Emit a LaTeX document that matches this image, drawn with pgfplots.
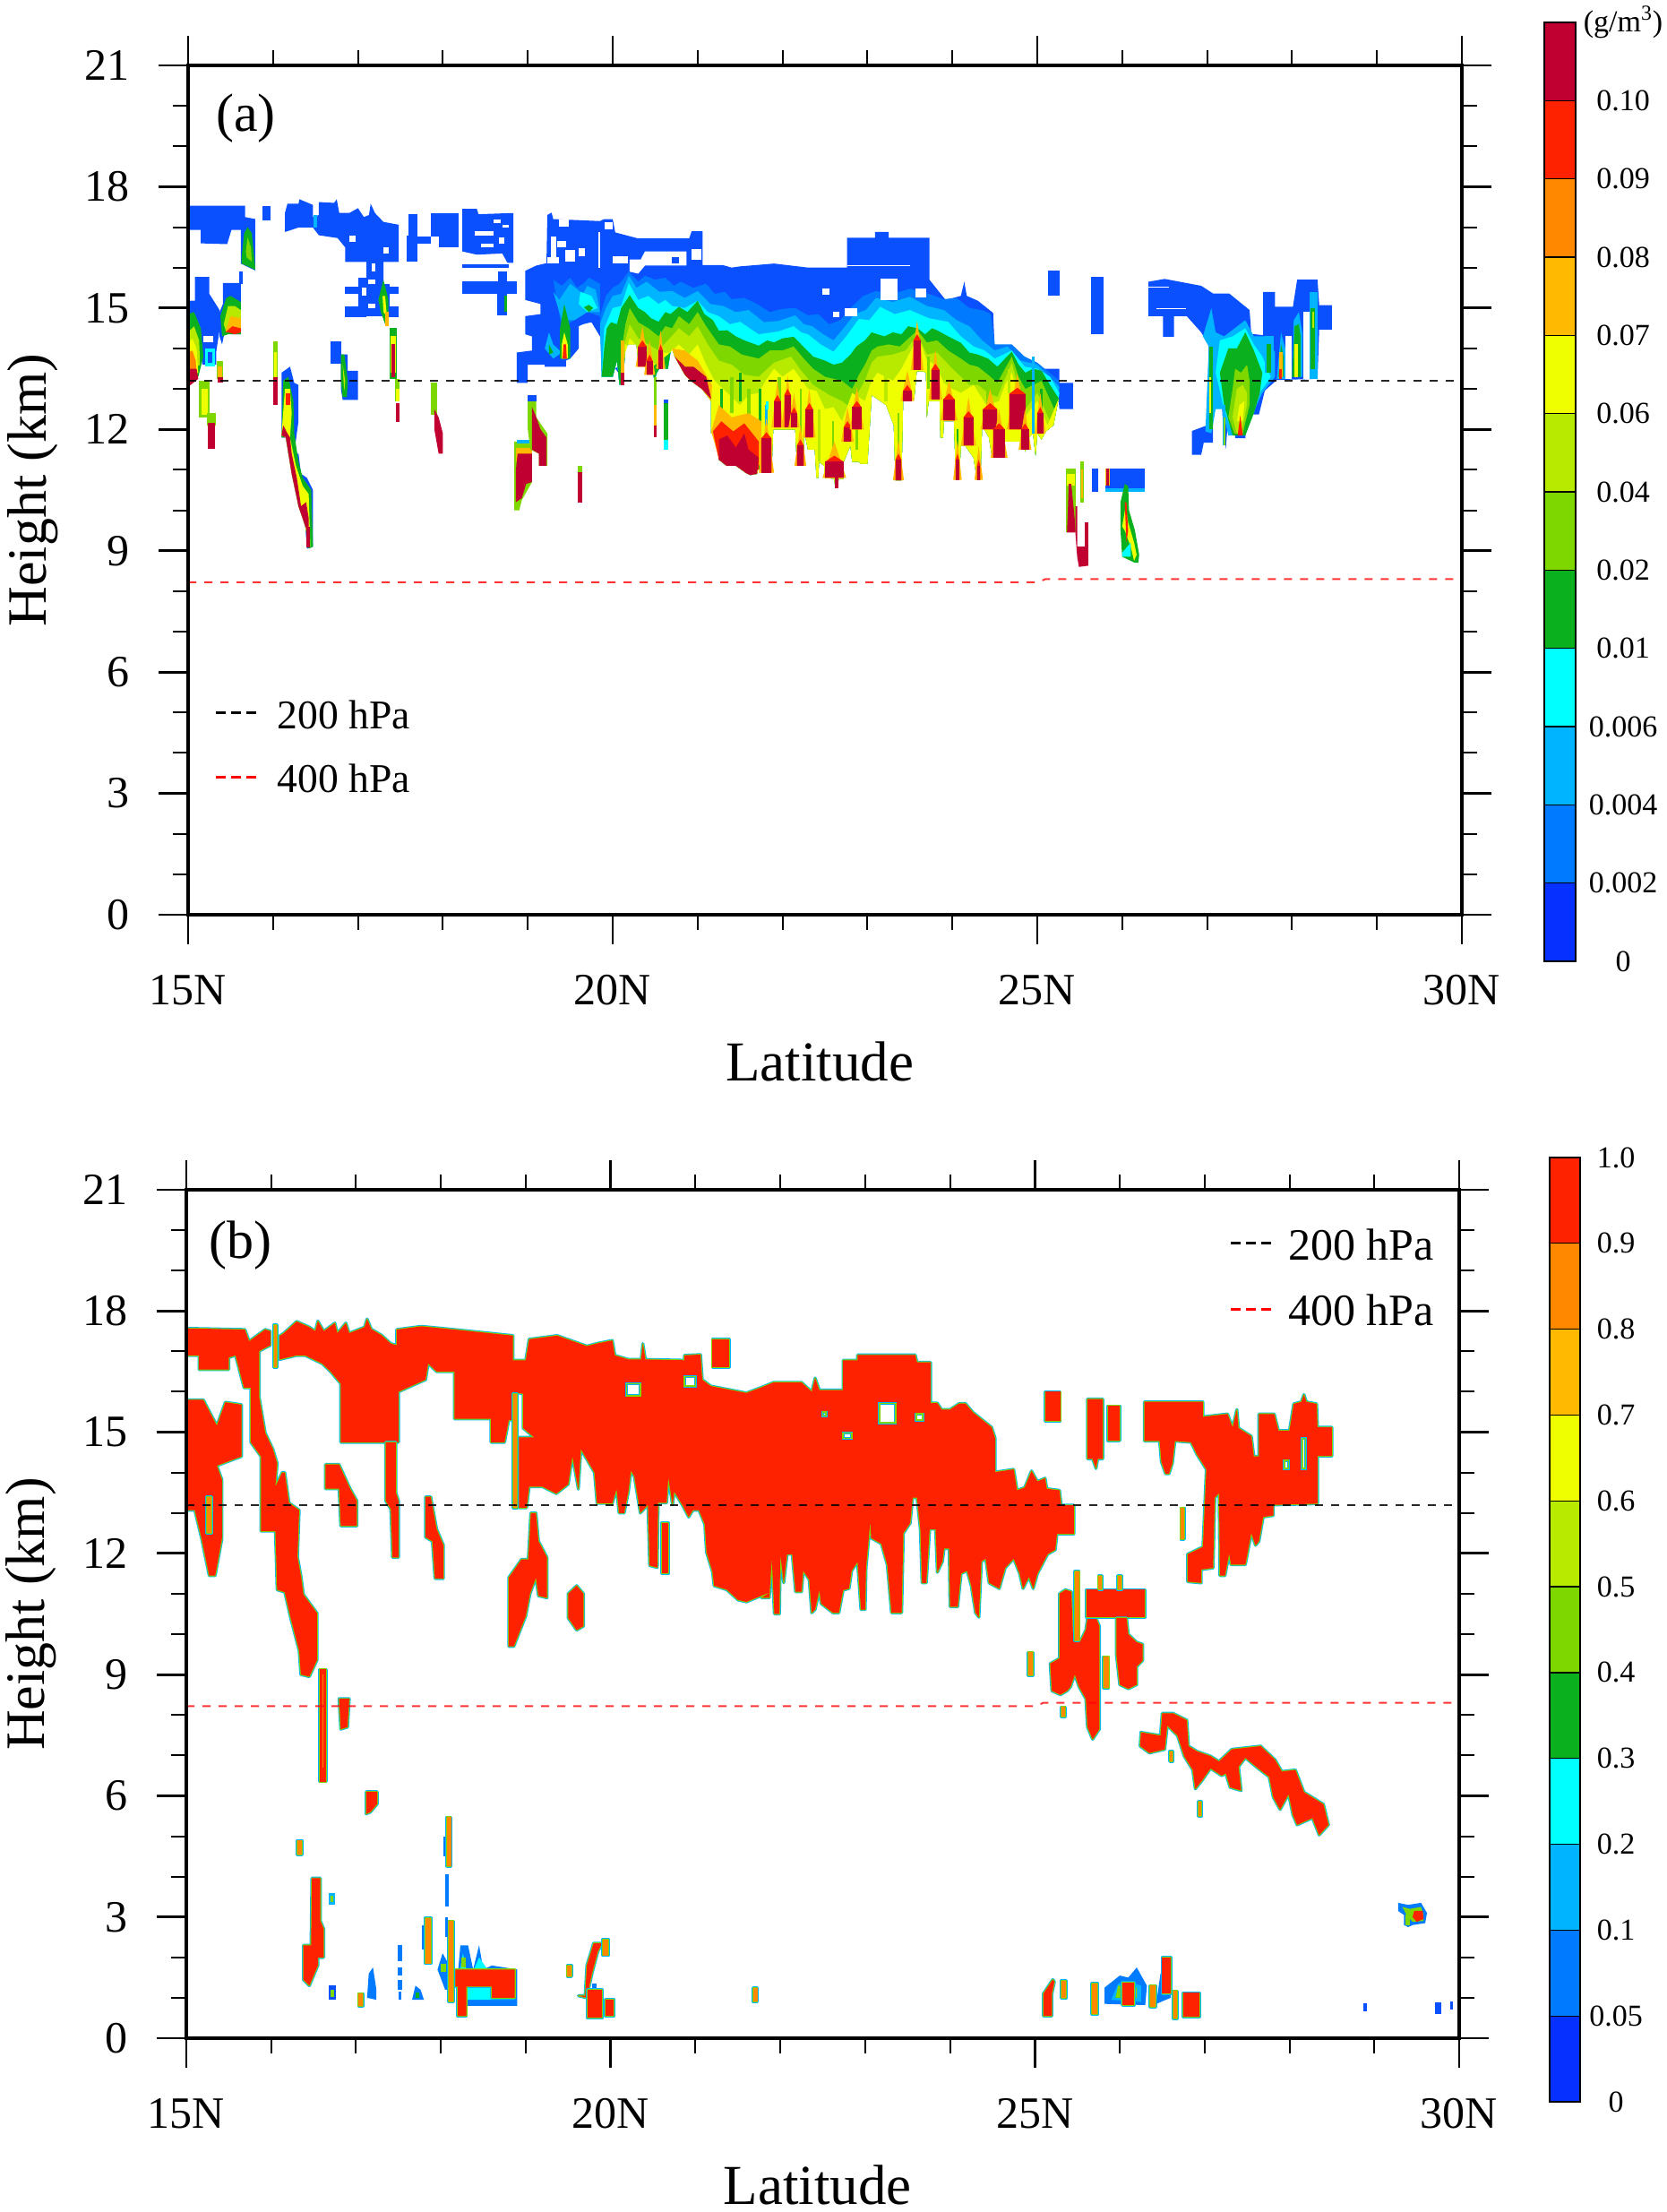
\documentclass[border=0pt]{standalone}
\usepackage{pgfplots}
\usepackage{fontspec}
\setmainfont{Liberation Serif}
\pgfplotsset{compat=1.18}
\definecolor{c1}{HTML}{0A50FF}\definecolor{c2}{HTML}{007BFF}\definecolor{c3}{HTML}{00B4FF}
\definecolor{c4}{HTML}{00FFFF}\definecolor{c5}{HTML}{0AB01E}\definecolor{c6}{HTML}{7ED800}
\definecolor{c7}{HTML}{B8EA00}\definecolor{c8}{HTML}{F0FF00}\definecolor{c9}{HTML}{FFB900}
\definecolor{c10}{HTML}{FF8800}\definecolor{c11}{HTML}{FF2200}\definecolor{c12}{HTML}{C00030}
\newcommand\Pf[2]{\addplot[fill=#1,draw=none] coordinates {#2} -- cycle;}
\newcommand\Rc[5]{\addplot[fill=#1,draw=none] coordinates {(#2,#4)(#3,#4)(#3,#5)(#2,#5)} -- cycle;}
\newcommand\Lay[2]{\edef\temp{\noexpand\addplot[fill=#1,draw=none] coordinates {#2} -- cycle;}\temp}
\newcommand\Sp[4]{\pgfmathsetmacro\sa{#1-0.03}\pgfmathsetmacro\sb{#2+0.03}\pgfmathsetmacro\sc{(#1+#2)/2}\pgfmathsetmacro\sd{#4+0.5}\pgfmathsetmacro\se{#4+0.15}
\addplot[fill=c9,draw=none] coordinates {(\sa,#3)(\sc,\sd)(\sb,#3)} -- cycle;
\addplot[fill=c11,draw=none] coordinates {(#1,#3)(#1,#4)(\sc,\se)(#2,#4)(#2,#3)} -- cycle;
\addplot[fill=c12,draw=none] coordinates {(#1,#3)(#1,#4)(#2,#4)(#2,#3)} -- cycle;}
\newcommand\Rb[1]{\addplot[fill=c3,draw=c3,line width=1.7pt,line join=round] coordinates {#1} -- cycle;
\addplot[draw=c6,line width=0.9pt,line join=round] coordinates {#1} -- cycle;
\addplot[fill=c11,draw=none] coordinates {#1} -- cycle;}
\newcommand\Rr[4]{\Rb{(#1,#3)(#2,#3)(#2,#4)(#1,#4)}}
\newcommand\Ho[4]{\addplot[fill=white,draw=c3,line width=1.5pt] coordinates {(#1,#3)(#2,#3)(#2,#4)(#1,#4)} -- cycle;
\addplot[draw=c6,line width=0.8pt] coordinates {(#1,#3)(#2,#3)(#2,#4)(#1,#4)} -- cycle;}
\newcommand\Ln[4]{\Rb{(#1,#3)(#2,#3)(#2,#4)(#1,#4)}\addplot[fill=c10,draw=none] coordinates {(#1,#3)(#2,#3)(#2,#4)(#1,#4)} -- cycle;}
\def\botA{(25.25,12.75)(25.19,12.1)(25.1,11.95)(25.05,11.75)(25.0,11.9)(24.98,11.35)(24.95,11.9)(24.9,11.8)(24.86,11.45)(24.83,11.7)(24.6,11.7)(24.58,11.3)(24.47,11.3)(24.43,11.8)(24.35,12.1)(24.33,10.75)(24.29,10.75)(24.25,11.3)(24.15,11.6)(24.1,11.6)(24.08,10.75)(24.04,10.75)(24.02,12.2)(23.9,12.2)(23.89,11.8)(23.86,11.8)(23.85,12.7)(23.72,12.7)(23.7,12.3)(23.69,13.4)(23.65,13.44)(23.58,13.44)(23.55,12.75)(23.42,12.7)(23.4,10.74)(23.33,10.74)(23.31,12.1)(23.22,12.6)(23.05,12.85)(23.0,11.15)(22.92,11.15)(22.9,11.2)(22.82,11.2)(22.8,11.6)(22.72,11.2)(22.72,10.78)(22.66,10.78)(22.65,10.55)(22.62,10.55)(22.61,10.78)(22.5,10.8)(22.49,11.1)(22.43,11.2)(22.42,10.8)(22.4,10.8)(22.38,11.5)(22.3,11.5)(22.27,11.8)(22.25,11.8)(22.25,11.1)(22.17,11.1)(22.15,12.0)(21.89,12.0)(21.87,10.93)(21.75,10.93)(21.72,11.1)(21.7,10.9)(21.62,10.87)(21.57,10.92)(21.45,11.1)(21.34,11.1)(21.25,11.25)(21.25,11.9)(21.16,11.9)(21.16,12.7)(21.05,13.0)(20.92,13.2)(20.85,13.35)(20.73,13.8)(20.7,14.0)}
\def\botL{(20.68,13.9)(20.65,13.5)(20.62,13.5)(20.6,13.9)(20.55,13.5)(20.52,13.4)(20.49,13.2)(20.47,13.5)(20.42,13.4)(20.4,13.4)(20.38,13.65)(20.3,13.7)(20.28,14.1)(20.2,14.15)(20.15,14.0)(20.12,13.15)(20.08,13.1)(20.05,13.7)(20.0,13.3)(19.87,13.3)}
\def\botM{(20.68,13.9)(20.6,13.9)(20.5,13.6)(20.4,13.5)(20.3,13.7)(20.28,14.1)(20.15,14.1)(20.12,13.15)(20.1,13.15)}
\pgfplotsset{panel/.style={scale only axis,xmin=15,xmax=30,ymin=0,ymax=21,
 xtick={15,20,25,30},xticklabels={15N,20N,25N,30N},ytick={0,3,...,21},yticklabels={0,3,6,9,12,15,18,21},
 minor x tick num=4,minor y tick num=2,tick align=outside,major tick length=16.5pt,minor tick length=8.5pt,
 every tick/.style={black,line width=1.4pt},minor tick style={black,line width=1pt},
 axis line style={line width=1.8pt},axis on top,
 xticklabel style={font=\fontsize{25}{25}\selectfont,inner sep=0pt,yshift=-17pt},
 yticklabel style={font=\fontsize{25}{25}\selectfont,inner sep=0pt,xshift=-16pt},
 xlabel={Latitude},ylabel={Height (km)},
 every axis x label/.style={at={(axis description cs:0.5,0)},anchor=center,xshift=-2.8pt,yshift=-82pt,font=\fontsize{31.5}{32}\selectfont},
 every axis y label/.style={at={(axis description cs:0,0.5)},anchor=center,xshift=-86.5pt,rotate=90,font=\fontsize{31}{32}\selectfont}},
 cbar/.style={scale only axis,xmin=0,xmax=1,xtick=\empty,ymin=0,axis line style={line width=0.6pt},
 ytick pos=right,yticklabel pos=right,major tick length=0pt,
 yticklabel style={anchor=center,inner sep=0pt,font=\fontsize{17}{17}\selectfont}}}
\newcommand\Bx[3]{\addplot[fill=#1,draw=black,line width=0.6pt] coordinates {(0,#2)(1,#2)(1,#3)(0,#3)} -- cycle;}
\begin{document}
\begin{tikzpicture}
\path[use as bounding box] (0,0) rectangle (930pt,1234.5pt);
%%%%%%%%%%%%% panel a
\begin{axis}[panel,at={(105pt,724pt)},anchor=south west,width=711pt,height=474pt]
% upper blue patches
\Pf{c1}{(15,17.53)(15.67,17.53)(15.67,17.25)(15.79,17.2)(15.79,15.93)(15.62,16.1)(15.62,16.93)(15.51,16.93)(15.46,16.58)(15.15,16.6)(15.15,16.93)(15,16.93)}
\Pf{c5}{(15.63,16.25)(15.66,16.85)(15.7,17.0)(15.75,16.85)(15.79,16.0)(15.79,15.95)(15.63,16.1)}
\Pf{c6}{(15.68,16.4)(15.7,16.75)(15.74,16.5)(15.75,16.15)(15.69,16.25)}
\Pf{c1}{(15,15.18)(15.08,15.18)(15.08,15.77)(15.25,15.77)(15.25,15.35)(15.37,14.95)(15.37,14.45)(15.33,13.9)(15.33,13.6)(15.17,13.6)(15.13,14.0)(15.0,14.6)}
\Rc{white}{15.18}{15.3}{14.15}{14.3}
\Rc{c4}{15.2}{15.32}{13.55}{14.0}\Rc{c1}{15.23}{15.29}{13.65}{13.9}
\Pf{c5}{(15.0,14.85)(15.07,14.9)(15.15,14.5)(15.18,13.8)(15.12,13.3)(15,13.2)}
\Pf{c7}{(15.0,14.4)(15.07,14.55)(15.13,14.2)(15.14,13.6)(15.0,13.4)}
\Pf{c8}{(15,14.1)(15.05,14.25)(15.1,14.0)(15.12,13.4)(15,13.3)}
\Pf{c10}{(15,13.9)(15.05,13.95)(15.09,13.7)(15.1,13.25)(15,13.15)}
\Pf{c12}{(15,13.5)(15.1,13.5)(15.12,13.25)(15.0,13.05)}
\Rc{c6}{15.13}{15.25}{12.3}{13.2}\Rc{c8}{15.16}{15.23}{12.35}{13.0}
\Rc{c6}{15.22}{15.33}{12.1}{12.4}\Rc{c12}{15.23}{15.32}{11.52}{12.15}
\Rc{c6}{15.34}{15.41}{13.25}{13.7}\Rc{c9}{15.35}{15.4}{13.2}{13.55}\Rc{c12}{15.35}{15.41}{13.15}{13.3}
\Pf{c1}{(15.41,15.62)(15.62,15.62)(15.62,14.35)(15.52,14.35)(15.45,14.6)(15.4,14.1)(15.37,14.3)(15.37,14.9)(15.41,15.1)}
\Rc{c1}{15.6}{15.64}{15.6}{15.9}
\Pf{c5}{(15.38,14.8)(15.45,15.25)(15.5,15.3)(15.62,15.15)(15.62,14.35)(15.47,14.35)(15.4,14.3)}
\Pf{c7}{(15.42,14.6)(15.47,15.05)(15.55,15.05)(15.62,14.95)(15.62,14.4)(15.45,14.4)}
\Pf{c9}{(15.45,14.5)(15.5,14.8)(15.62,14.75)(15.62,14.4)(15.45,14.4)}
\Pf{c11}{(15.44,14.4)(15.52,14.55)(15.62,14.5)(15.62,14.4)(15.55,14.35)(15.47,14.4)}
\Rc{c1}{15.88}{15.97}{17.17}{17.53}
\Pf{c1}{(16.14,17.35)(16.17,17.58)(16.3,17.58)(16.31,17.69)(16.47,17.55)(16.47,17.25)(16.54,17.3)(16.54,17.62)(16.72,17.6)(16.75,17.69)(16.78,17.35)(16.9,17.35)(17.0,17.47)(17.07,17.25)(17.13,17.3)(17.15,17.58)(17.2,17.35)(17.3,17.13)(17.48,17.06)(17.48,16.14)(17.3,16.14)(17.3,15.65)(17.1,15.65)(17.1,16.14)(16.85,16.14)(16.85,16.5)(16.76,16.73)(16.54,16.8)(16.47,16.99)(16.3,16.99)(16.14,16.88)}
\Rc{white}{16.9}{16.97}{16.64}{16.8}\Rc{white}{17.16}{17.2}{15.9}{16.1}\Rc{white}{17.3}{17.36}{16.35}{16.5}
\Rc{c3}{16.48}{16.52}{17.0}{17.3}
\Rc{c1}{17.0}{17.3}{14.8}{15.75}\Rc{c1}{16.85}{17.0}{15.35}{15.53}\Rc{c1}{16.85}{17.1}{14.78}{15.05}
\Rc{c1}{17.37}{17.48}{15.35}{15.53}\Rc{c1}{17.37}{17.48}{14.78}{15.05}\Rc{c1}{17.3}{17.37}{14.78}{15.6}
\Rc{white}{17.05}{17.1}{15.3}{15.5}\Rc{white}{17.12}{17.2}{15.0}{15.1}\Rc{white}{17.12}{17.2}{15.6}{15.7}
\Pf{c5}{(17.24,15.2)(17.3,15.7)(17.36,15.2)(17.36,14.6)(17.32,14.6)(17.27,14.9)}
\Pf{c8}{(17.29,15.3)(17.32,15.3)(17.34,14.8)(17.3,14.9)}
\Rc{c9}{17.32}{17.36}{14.55}{14.9}
\Rc{c5}{17.37}{17.46}{13.25}{14.5}\Rc{c8}{17.38}{17.45}{13.4}{14.3}\Rc{c12}{17.39}{17.44}{13.3}{14.1}
\Rc{c6}{17.44}{17.49}{12.7}{13.25}\Rc{c8}{17.45}{17.49}{12.7}{13.0}\Rc{c12}{17.445}{17.49}{12.18}{12.65}
\Rc{c6}{17.86}{17.93}{12.35}{13.15}\Pf{c12}{(17.9,12.5)(17.95,12.3)(18.0,11.9)(18.0,11.4)(17.95,11.4)(17.9,12.0)}
\Rc{c1}{17.6}{17.7}{16.14}{17.33}\Rc{c1}{17.57}{17.7}{16.14}{16.8}\Rc{c1}{17.7}{17.86}{16.6}{16.77}\Rc{c1}{17.86}{18.19}{16.77}{17.35}\Rc{c1}{17.95}{18.19}{16.5}{16.77}
\Pf{c1}{(18.23,17.45)(18.4,17.45)(18.42,17.32)(18.83,17.35)(18.83,16.12)(18.76,16.12)(18.7,16.35)(18.4,16.32)(18.23,16.4)}
\Rc{white}{18.38}{18.6}{16.8}{16.9}\Rc{white}{18.6}{18.68}{17.1}{17.2}\Rc{white}{18.66}{18.72}{16.6}{16.75}\Rc{white}{18.45}{18.6}{16.5}{16.6}\Rc{white}{18.7}{18.78}{16.98}{17.05}
\Rc{c1}{18.23}{18.78}{16.0}{16.08}\Rc{c1}{18.23}{18.87}{15.36}{15.66}\Rc{c1}{18.64}{18.76}{14.83}{15.36}\Rc{c1}{18.65}{18.75}{15.66}{15.9}
\Rc{c5}{18.72}{18.75}{14.9}{15.3}
\Rc{c1}{16.68}{16.8}{13.62}{14.18}\Pf{c1}{(16.8,13.85)(16.88,13.85)(16.88,13.45)(17.0,13.45)(17.0,12.73)(16.82,12.73)(16.8,13.0)}
\Pf{c5}{(16.8,13.85)(16.84,13.85)(16.88,13.2)(16.87,12.8)(16.82,12.8)(16.8,13.2)}
\Pf{c7}{(16.82,13.6)(16.85,13.2)(16.84,12.95)(16.83,13.2)}
\Rc{c6}{16.0}{16.05}{13.3}{14.18}\Rc{c8}{16.01}{16.04}{13.3}{13.9}\Rc{c12}{16.0}{16.06}{12.6}{13.3}
% streak near 16N
\Pf{c1}{(16.1,13.4)(16.2,13.55)(16.25,13.15)(16.3,13.1)(16.3,12.2)(16.28,11.9)(16.25,11.4)(16.3,11.4)(16.33,10.9)(16.4,10.8)(16.47,10.5)(16.47,9.1)(16.4,9.05)(16.38,9.6)(16.3,10.1)(16.22,10.9)(16.15,11.8)(16.1,11.8)}
\Pf{c5}{(16.12,13.2)(16.18,13.3)(16.24,12.7)(16.25,11.9)(16.3,11.2)(16.35,10.8)(16.45,10.5)(16.47,9.1)(16.42,9.05)(16.38,9.6)(16.3,10.1)(16.22,10.9)(16.15,11.8)(16.1,11.8)}
\Pf{c8}{(16.14,13.0)(16.2,13.0)(16.22,12.4)(16.2,11.8)(16.27,11.1)(16.35,10.6)(16.42,10.4)(16.44,9.1)(16.42,9.1)(16.38,9.6)(16.3,10.1)(16.22,10.9)(16.15,11.8)(16.1,11.85)}
\Pf{c12}{(16.12,12.1)(16.17,11.9)(16.2,11.8)(16.22,11.4)(16.28,10.8)(16.33,10.1)(16.39,10.2)(16.42,9.8)(16.42,9.4)(16.38,9.6)(16.3,10.1)(16.22,10.9)(16.15,11.8)(16.1,11.85)}
\Rc{c12}{16.39}{16.43}{9.08}{9.6}\Rc{c11}{16.15}{16.2}{12.6}{12.9}
% blobs near 19N
\Pf{c6}{(18.84,11.7)(19.05,11.7)(19.05,10.7)(18.93,10.25)(18.9,10.0)(18.84,10.0)}
\Rc{c3}{18.87}{19.05}{11.65}{11.75}
\Pf{c9}{(18.86,11.55)(19.05,11.55)(19.05,11.2)(18.86,11.2)}
\Pf{c12}{(18.88,11.4)(19.05,11.4)(19.05,10.7)(18.98,10.65)(18.93,10.3)(18.86,10.2)(18.86,11.0)}
\Pf{c6}{(19.0,12.7)(19.1,12.7)(19.1,12.3)(19.23,11.9)(19.23,11.1)(19.13,11.1)(19.13,11.4)(19.03,11.5)(19.0,12.0)}
\Rc{c1}{19.0}{19.1}{12.7}{12.85}
\Pf{c12}{(19.05,12.55)(19.1,12.3)(19.15,12.0)(19.22,11.8)(19.22,11.1)(19.13,11.1)(19.13,11.4)(19.05,11.5)(19.05,12.2)}
\Rc{c6}{19.59}{19.64}{10.95}{11.1}\Rc{c12}{19.59}{19.64}{10.2}{10.95}
% main mass
\Lay{c1}{(18.97,15.92)(19.1,16.05)(19.2,16.1)(19.22,16.1)(19.23,17.3)(19.28,17.36)(19.3,17.2)(19.85,17.15)(19.9,17.2)(20.0,17.2)(20.03,16.87)(20.3,16.72)(20.9,16.72)(20.93,16.9)(21.06,16.9)(21.06,16.06)(21.3,16.06)(21.4,16.0)(21.5,16.03)(21.9,16.1)(22.3,16.0)(22.76,16.0)(22.76,16.74)(23.09,16.74)(23.09,16.88)(23.25,16.88)(23.25,16.74)(23.73,16.74)(23.73,15.7)(23.92,15.2)(24.1,15.3)(24.14,15.65)(24.17,15.3)(24.3,15.18)(24.48,14.88)(24.5,13.92)(24.6,13.8)(24.79,13.5)(25.26,13.5)(25.26,13.15)(25.42,13.15)(25.42,12.5)(25.26,12.5)\botA\botL(20.1,13.6)(20.1,13.3)(20.0,13.6)(19.9,14.2)(19.85,14.3)(19.75,14.65)(19.65,14.6)(19.6,14.55)(19.6,14.0)(19.5,13.75)(19.45,13.7)(19.45,13.55)(19.2,13.55)(19.2,13.6)(19.0,13.6)(19.0,13.15)(18.87,13.15)(18.87,13.9)(19.05,13.95)(19.05,14.3)(18.97,14.35)(18.97,14.8)(19.15,14.85)(19.15,15.1)(18.97,15.2)}
\Pf{c2}{(19.3,15.7)(19.4,15.55)(19.5,15.75)(19.58,15.5)(19.65,15.6)(19.72,15.75)(19.85,15.6)(19.85,14.8)(19.7,14.9)(19.55,14.7)(19.4,14.5)}
\Pf{c3}{(19.3,15.4)(19.37,15.2)(19.5,15.6)(19.65,15.35)(19.7,15.55)(19.8,15.45)(19.85,14.9)(19.7,14.9)(19.55,14.7)(19.4,14.7)}
\Pf{c4}{(19.62,15.4)(19.75,15.3)(19.82,15.0)(19.7,14.9)(19.6,15.1)}
\Pf{c5}{(19.66,15.02)(19.72,15.08)(19.77,15.0)(19.72,14.9)}
\Pf{c3}{(19.25,14.4)(19.3,14.1)(19.4,13.9)(19.3,13.75)(19.2,14.0)}
\Pf{c5}{(19.25,14.1)(19.3,13.9)(19.25,13.85)}
\Pf{c5}{(19.43,15.1)(19.5,14.5)(19.5,13.75)(19.38,13.75)(19.38,14.5)}
\Pf{c8}{(19.43,14.4)(19.47,14.1)(19.47,13.75)(19.4,13.75)(19.4,14.1)}
\Pf{c11}{(19.42,14.1)(19.45,14.1)(19.46,13.75)(19.41,13.75)}
\Lay{c2}{(19.85,14.8)(19.92,15.3)(20.0,15.5)(20.08,15.6)(20.19,15.9)(20.3,15.65)(20.38,15.8)(20.5,15.7)(20.62,15.75)(20.72,15.55)(20.8,15.65)(20.95,15.5)(21.1,15.6)(21.2,15.35)(21.32,15.4)(21.4,15.22)(21.55,15.25)(21.7,15.1)(21.85,14.9)(22.0,14.98)(22.15,15.0)(22.3,14.82)(22.42,14.85)(22.55,14.6)(22.68,14.7)(22.8,15.0)(22.95,15.3)(23.1,15.42)(23.3,15.35)(23.5,15.48)(23.68,15.38)(23.9,15.22)(24.05,15.25)(24.2,15.0)(24.35,14.95)(24.45,14.85)(24.5,14.1)(24.7,14.1)(24.85,13.8)(25.0,13.65)(25.26,13.2)\botA\botL}
\Lay{c3}{(19.85,14.6)(19.92,15.0)(20.0,15.3)(20.1,15.35)(20.19,15.8)(20.28,15.5)(20.4,15.65)(20.55,15.4)(20.7,15.42)(20.85,15.25)(21.0,15.42)(21.15,15.1)(21.3,15.05)(21.45,14.9)(21.6,14.95)(21.78,14.65)(21.95,14.68)(22.15,14.82)(22.25,14.6)(22.35,14.55)(22.48,14.35)(22.6,14.2)(22.72,14.5)(22.85,14.85)(22.98,14.95)(23.1,15.25)(23.3,15.15)(23.5,15.28)(23.7,15.05)(23.9,14.95)(24.05,14.7)(24.2,14.55)(24.35,14.2)(24.5,13.95)(24.65,14.05)(24.8,13.7)(25.0,13.6)(25.26,13.05)\botA\botL}
\Lay{c4}{(19.9,14.5)(20.0,15.0)(20.1,15.05)(20.19,15.62)(20.3,15.2)(20.42,15.3)(20.54,15.1)(20.62,15.2)(20.7,15.05)(20.85,15.0)(21.0,15.18)(21.12,14.9)(21.25,14.8)(21.38,14.6)(21.5,14.66)(21.72,14.35)(21.95,14.42)(22.13,14.55)(22.22,14.4)(22.3,14.35)(22.45,14.1)(22.6,13.92)(22.75,14.3)(22.9,14.73)(23.02,14.7)(23.15,15.03)(23.32,14.85)(23.5,14.95)(23.72,14.75)(23.95,14.66)(24.1,14.3)(24.25,14.05)(24.38,13.95)(24.5,13.75)(24.7,13.95)(24.85,13.55)(25.0,13.5)(25.15,13.3)(25.26,12.9)\botA\botL}
\Lay{c5}{(19.9,14.0)(19.93,14.5)(19.98,14.65)(20.05,14.6)(20.1,15.0)(20.2,15.32)(20.3,15.0)(20.38,14.9)(20.45,14.75)(20.54,14.66)(20.62,14.9)(20.68,14.85)(20.78,15.03)(20.88,14.9)(21.0,15.18)(21.08,14.85)(21.18,14.7)(21.25,14.44)(21.35,14.45)(21.45,14.3)(21.55,14.2)(21.72,14.07)(21.82,14.2)(21.9,14.15)(22.0,14.25)(22.13,14.29)(22.22,14.1)(22.36,13.8)(22.5,13.7)(22.6,13.6)(22.7,13.65)(22.8,13.85)(22.87,14.05)(22.97,14.2)(23.05,14.4)(23.12,14.35)(23.2,14.3)(23.3,14.4)(23.4,14.35)(23.48,14.55)(23.59,14.5)(23.68,14.35)(23.76,14.5)(23.82,14.45)(23.95,14.3)(24.1,14.14)(24.2,13.9)(24.3,13.85)(24.42,13.75)(24.53,13.55)(24.62,13.75)(24.7,13.92)(24.78,13.6)(24.86,13.4)(24.95,13.5)(25.05,13.45)(25.15,13.1)(25.26,12.74)\botA\botL}
\Lay{c6}{(20.1,13.9)(20.15,14.6)(20.2,15.0)(20.3,14.65)(20.42,14.5)(20.54,14.3)(20.62,14.55)(20.7,14.5)(20.78,14.8)(20.9,14.6)(21.0,14.9)(21.1,14.55)(21.25,14.1)(21.38,14.05)(21.52,13.85)(21.72,13.75)(21.85,13.95)(22.0,13.95)(22.13,14.05)(22.25,13.75)(22.36,13.5)(22.5,13.3)(22.7,13.2)(22.82,13.0)(22.9,13.35)(22.97,13.6)(23.05,13.95)(23.12,14.05)(23.25,14.1)(23.38,14.05)(23.59,14.45)(23.7,14.15)(23.82,14.2)(23.95,13.95)(24.1,13.75)(24.2,13.6)(24.3,13.55)(24.42,13.35)(24.53,13.15)(24.62,13.5)(24.7,13.8)(24.78,13.3)(24.86,13.0)(25.05,13.2)(25.2,12.5)\botA\botM}
\Lay{c7}{(20.1,13.8)(20.2,14.6)(20.3,14.25)(20.54,13.95)(20.65,14.2)(20.78,14.5)(20.9,14.3)(21.0,14.55)(21.12,14.1)(21.25,13.7)(21.4,13.6)(21.55,13.35)(21.72,13.3)(21.9,13.65)(22.1,13.8)(22.22,13.45)(22.36,13.1)(22.55,12.85)(22.7,12.7)(22.82,12.5)(22.9,12.95)(22.97,13.2)(23.05,13.65)(23.12,13.8)(23.3,13.85)(23.45,13.95)(23.59,14.35)(23.7,13.85)(23.82,13.9)(24.0,13.5)(24.1,13.3)(24.2,13.1)(24.3,13.1)(24.42,12.9)(24.53,12.8)(24.62,13.25)(24.7,13.65)(24.78,13.0)(24.86,12.5)(25.0,12.9)(25.15,12.2)\botA\botM}
\Lay{c8}{(20.12,13.7)(20.2,14.25)(20.35,13.9)(20.5,13.6)(20.65,13.85)(20.78,14.1)(20.9,13.85)(21.0,14.1)(21.1,13.6)(21.2,13.2)(21.35,12.9)(21.5,12.6)(21.6,12.85)(21.72,12.9)(21.8,13.2)(21.9,13.5)(22.0,13.3)(22.13,13.5)(22.3,13.0)(22.4,12.95)(22.5,12.5)(22.6,12.55)(22.7,12.2)(22.82,12.9)(22.97,12.7)(23.05,13.2)(23.12,13.4)(23.3,13.2)(23.4,13.5)(23.5,13.9)(23.6,14.3)(23.7,13.7)(23.8,13.6)(23.9,13.15)(24.0,13.0)(24.1,12.9)(24.25,13.1)(24.4,12.6)(24.55,12.7)(24.62,13.1)(24.7,13.4)(24.85,12.3)(25.0,12.7)(25.12,12.1)\botA\botM}
% mottling
\Rc{c5}{21.27}{21.3}{12.1}{13.0}\Rc{c6}{21.38}{21.42}{12.4}{13.3}\Rc{c5}{21.49}{21.52}{12.7}{13.4}\Rc{c6}{21.58}{21.62}{12.3}{13.0}\Rc{c5}{21.72}{21.75}{11.0}{13.0}\Rc{c3}{21.79}{21.82}{12.1}{12.6}\Rc{c4}{21.8}{21.84}{12.5}{12.7}
\Rc{c6}{21.94}{21.98}{12.5}{13.3}\Rc{c6}{22.2}{22.23}{11.6}{13.0}\Rc{c7}{22.42}{22.45}{11.2}{12.5}\Rc{c6}{22.58}{22.61}{11.4}{12.2}\Rc{c6}{22.86}{22.89}{11.5}{12.5}
\Rc{c7}{23.2}{23.24}{12.7}{13.5}\Rc{c6}{23.35}{23.38}{11.0}{12.4}\Rc{c6}{23.7}{23.73}{13.0}{13.8}\Rc{c5}{24.05}{24.07}{11.0}{12.0}\Rc{c8}{24.3}{24.32}{11.0}{12.0}\Rc{c6}{24.4}{24.43}{12.4}{13.2}\Rc{c7}{24.65}{24.68}{12.9}{13.5}
\Rc{c3}{24.94}{24.97}{11.9}{13.8}\Rc{c5}{25.03}{25.06}{12.0}{13.0}
% holes in the blue mass
\Rc{white}{23.15}{23.35}{15.2}{15.73}\Rc{white}{22.47}{22.55}{15.33}{15.49}\Rc{white}{23.57}{23.69}{15.27}{15.49}
\Rc{white}{22.6}{22.67}{14.77}{14.9}\Rc{white}{22.73}{22.88}{14.8}{15.0}\Rc{white}{22.76}{23.5}{16.03}{16.06}
\Pf{white}{(20.2,15.9)(20.3,15.85)(20.38,16.05)(20.87,16.05)(20.87,16.4)(20.38,16.4)(20.33,16.2)(20.2,16.2)}
\Rc{white}{20.93}{21.04}{16.2}{16.45}\Rc{c1}{20.7}{20.78}{16.1}{16.25}
\Rc{white}{19.27}{19.34}{16.2}{16.76}\Rc{white}{19.37}{19.48}{17.02}{17.2}\Rc{white}{19.44}{19.56}{16.14}{16.43}
\Rc{white}{19.6}{19.67}{16.28}{16.47}\Rc{white}{19.83}{19.85}{15.99}{16.88}\Rc{white}{19.9}{20.0}{16.95}{17.13}
\Rc{white}{20.0}{20.18}{16.1}{16.28}\Rc{white}{19.23}{19.37}{16.1}{16.25}\Rc{white}{19.35}{19.45}{16.5}{16.65}
% hot cores in the main mass
\Pf{c9}{(21.16,11.95)(21.25,12.6)(21.4,12.3)(21.6,12.4)(21.75,12.2)(21.75,11.1)(21.25,11.3)}
\Pf{c11}{(21.18,11.95)(21.28,12.2)(21.42,11.95)(21.55,12.15)(21.72,11.7)(21.72,11.0)(21.25,11.25)}
\Pf{c12}{(21.25,11.25)(21.25,11.75)(21.35,11.85)(21.45,11.55)(21.55,11.9)(21.6,11.5)(21.72,11.3)(21.7,10.9)(21.62,10.87)(21.57,10.92)(21.45,11.1)(21.34,11.1)}
\Pf{c9}{(20.7,14.0)(20.85,13.95)(21.0,13.7)(21.17,13.1)(21.16,12.7)(21.05,13.0)(20.92,13.2)(20.85,13.35)(20.73,13.8)}
\Pf{c12}{(20.73,13.8)(20.85,13.55)(20.95,13.55)(21.1,13.3)(21.16,12.75)(21.05,13.0)(20.92,13.2)(20.85,13.35)}
\Sp{21.75}{21.87}{10.93}{11.78}\Sp{21.9}{21.98}{12.05}{12.7}\Sp{22.02}{22.1}{12.05}{12.85}\Sp{22.1}{22.17}{12.05}{12.4}
\Sp{22.17}{22.25}{11.1}{11.6}\Sp{22.27}{22.36}{11.8}{12.5}\Sp{22.5}{22.72}{10.8}{11.2}\Rc{c12}{22.62}{22.66}{10.55}{10.8}
\Sp{22.72}{22.81}{11.7}{12.05}\Sp{22.82}{22.93}{12.0}{12.55}\Sp{23.33}{23.4}{10.74}{11.25}
\Sp{23.54}{23.63}{13.47}{14.2}\Sp{23.42}{23.52}{12.7}{12.95}\Sp{23.75}{23.85}{12.74}{13.47}\Sp{23.89}{24.03}{12.22}{12.74}
\Sp{24.04}{24.08}{10.75}{11.25}\Sp{24.13}{24.25}{11.6}{12.3}\Sp{24.29}{24.33}{10.75}{11.1}\Sp{24.36}{24.53}{12.0}{12.5}
\Sp{24.48}{24.62}{11.3}{12.0}\Sp{24.67}{24.86}{12.0}{12.88}\Sp{24.81}{24.9}{11.5}{12.0}\Sp{25.0}{25.07}{11.9}{12.4}
\Sp{20.3}{20.4}{13.55}{14.05}\Sp{20.4}{20.47}{13.35}{13.7}\Sp{20.54}{20.59}{13.5}{13.95}\Rc{c9}{20.1}{20.14}{13.4}{14.2}\Rc{c12}{20.1}{20.14}{13.1}{13.4}
% thin columns
\Rc{c6}{20.49}{20.52}{12.2}{13.3}\Rc{c9}{20.49}{20.52}{12.1}{12.6}\Rc{c12}{20.49}{20.52}{11.8}{12.1}
\Rc{c5}{20.6}{20.65}{11.75}{12.74}\Rc{c4}{20.6}{20.65}{11.5}{11.75}\Rc{c1}{20.6}{20.65}{12.65}{12.74}
% patches at 25--26N
\Rc{c1}{25.13}{25.26}{15.3}{15.92}\Rc{c1}{25.63}{25.78}{14.35}{15.78}
\Rc{c6}{25.34}{25.45}{9.45}{11.04}\Rc{c8}{25.35}{25.44}{10.6}{10.9}
\Pf{c12}{(25.37,10.65)(25.4,10.65)(25.44,9.8)(25.45,9.45)(25.35,9.45)(25.36,10.0)}
\Pf{c12}{(25.45,10.1)(25.47,10.1)(25.47,9.1)(25.56,9.1)(25.56,9.7)(25.6,9.7)(25.6,8.63)(25.49,8.6)(25.47,8.85)(25.45,9.4)}
\Rc{c6}{25.51}{25.55}{10.2}{11.2}\Rc{c9}{25.52}{25.54}{10.3}{11.0}
\Rc{c1}{25.64}{25.72}{10.46}{11.04}\Rc{c1}{25.8}{26.27}{10.46}{11.04}\Rc{c3}{25.8}{26.27}{10.45}{10.55}
\Rc{c9}{25.8}{25.85}{10.6}{11.04}\Rc{c12}{25.81}{25.84}{10.6}{11.04}
\Pf{c5}{(25.98,10.2)(26.03,10.65)(26.07,10.6)(26.08,10.0)(26.15,9.5)(26.2,8.9)(26.19,8.7)(26.15,8.7)(26.0,8.85)(25.98,9.5)}
\Pf{c8}{(26.0,9.6)(26.04,10.1)(26.07,9.7)(26.14,9.2)(26.17,8.9)(26.14,8.75)(26.1,9.1)(26.03,9.5)}
\Pf{c11}{(26.03,10.2)(26.05,10.2)(26.07,9.5)(26.05,9.2)}
\Pf{c4}{(26.0,8.95)(26.1,9.2)(26.1,8.85)(26.0,8.85)}
% right-hand mass
\Pf{c1}{(26.31,15.65)(26.5,15.72)(26.93,15.55)(27.07,15.36)(27.26,15.36)(27.5,14.95)(27.52,14.36)(27.66,14.33)(27.66,15.4)(27.8,15.4)(27.8,15.03)(28.01,15.03)(28.06,15.7)(28.3,15.7)(28.32,15.07)(28.47,15.07)(28.47,14.47)(28.32,14.47)(28.3,13.25)(27.82,13.22)(27.68,12.96)(27.61,12.37)(27.45,12.37)(27.45,11.78)(27.33,11.78)(27.33,12.07)(27.24,12.07)(27.22,11.52)(27.19,12.0)(27.17,12.74)(27.07,13.1)(27.07,11.67)(26.96,11.67)(26.93,11.37)(26.82,11.37)(26.82,11.96)(27.0,12.1)(27.02,14.07)(26.93,14.4)(26.76,14.8)(26.61,14.8)(26.61,14.29)(26.48,14.29)(26.48,14.8)(26.31,14.8)}
\Rc{white}{26.31}{26.55}{15.5}{15.53}\Rc{white}{26.4}{26.75}{14.97}{15.0}
\Pf{c3}{(26.95,14.3)(27.05,15.0)(27.1,14.4)(27.2,14.3)(27.45,14.7)(27.55,14.3)(27.7,14.3)(27.8,13.9)(27.8,13.3)(27.65,12.9)(27.55,12.45)(27.45,11.85)(27.25,11.85)(27.18,12.5)(27.1,12.5)(27.05,11.9)(26.98,11.95)(27.02,14.05)}
\Pf{c4}{(27.1,13.4)(27.15,14.2)(27.3,14.3)(27.45,14.5)(27.55,14.1)(27.65,13.8)(27.75,13.3)(27.62,12.9)(27.55,12.4)(27.45,11.9)(27.3,11.9)(27.2,12.5)}
\Pf{c5}{(27.2,12.6)(27.15,13.4)(27.25,14.0)(27.35,14.0)(27.45,14.4)(27.55,13.95)(27.65,13.4)(27.62,12.9)(27.55,12.4)(27.45,11.85)(27.3,11.85)}
\Pf{c6}{(27.25,12.3)(27.3,13.0)(27.33,13.5)(27.4,13.4)(27.47,13.6)(27.5,13.2)(27.5,12.6)(27.42,11.9)(27.32,11.9)}
\Pf{c7}{(27.3,12.3)(27.35,13.0)(27.42,13.1)(27.47,12.9)(27.47,12.6)(27.4,11.9)(27.35,11.9)}
\Pf{c8}{(27.35,12.2)(27.38,12.6)(27.44,12.7)(27.42,12.2)}
\Pf{c11}{(27.36,11.85)(27.39,12.35)(27.42,11.85)}
\Rc{c5}{27.02}{27.07}{12.0}{14.05}\Rc{c8}{27.03}{27.05}{12.4}{13.3}\Rc{c3}{27.18}{27.22}{11.6}{12.6}\Rc{c6}{27.19}{27.21}{11.6}{12.3}
\Pf{c3}{(27.82,13.25)(27.87,14.4)(27.92,14.0)(27.92,13.25)}\Pf{c5}{(27.84,13.3)(27.87,14.1)(27.9,13.8)(27.9,13.3)}\Rc{c9}{27.85}{27.89}{13.3}{13.9}\Rc{c11}{27.85}{27.88}{13.25}{13.5}
\Pf{c3}{(28.0,13.3)(28.02,14.7)(28.08,14.9)(28.12,14.4)(28.12,13.3)}\Pf{c5}{(28.0,13.3)(28.03,14.55)(28.08,14.6)(28.1,14.3)(28.1,13.3)}\Rc{c8}{28.03}{28.07}{13.3}{14.1}
\Rc{c3}{28.21}{28.3}{13.25}{15.4}\Rc{c5}{28.22}{28.27}{13.5}{15.0}\Rc{c7}{28.24}{28.26}{14.5}{14.9}
\Rc{c3}{27.68}{27.78}{13.4}{14.3}\Rc{c5}{27.7}{27.75}{13.4}{14.1}
\Rc{white}{27.92}{28.0}{13.25}{14.3}\Rc{white}{28.13}{28.21}{13.25}{14.9}
% pressure levels and legend
\addplot[black,line width=1pt,dash pattern=on 4.5pt off 4.5pt,opacity=0.85] coordinates {(15,13.2)(30,13.2)};
\addplot[red,line width=1pt,dash pattern=on 4.5pt off 4.5pt,opacity=0.8] coordinates {(15,8.22)(25.0,8.22)(25.1,8.3)(30,8.3)};
\addplot[black,line width=1.5pt,dash pattern=on 5.5pt off 3pt] coordinates {(15.33,4.99)(15.83,4.99)};
\addplot[red,line width=1.5pt,dash pattern=on 5.5pt off 3pt] coordinates {(15.33,3.41)(15.83,3.41)};
\node[anchor=west,inner sep=0pt,font=\fontsize{22.8}{23}\selectfont] at (axis cs:16.05,4.95) {200 hPa};
\node[anchor=west,inner sep=0pt,font=\fontsize{22.8}{23}\selectfont] at (axis cs:16.05,3.37) {400 hPa};
\node[anchor=center,inner sep=0pt,font=\fontsize{30}{30}\selectfont] at (axis cs:15.68,19.7) {(a)};
\end{axis}
%%%%%%%%%%%%% colour bar a
\begin{axis}[cbar,at={(862pt,698pt)},anchor=south west,width=17.5pt,height=524pt,ymax=12,
 ytick={0,...,12},yticklabels={0,0.002,0.004,0.006,0.01,0.02,0.04,0.06,0.07,0.08,0.09,0.10,{(g/m\textsuperscript{3})}},
 yticklabel style={xshift=26.5pt}]
\Bx{c1!60!blue}{0}{1}\Bx{c2}{1}{2}\Bx{c3}{2}{3}\Bx{c4}{3}{4}\Bx{c5}{4}{5}\Bx{c6}{5}{6}\Bx{c7}{6}{7}\Bx{c8}{7}{8}\Bx{c9}{8}{9}\Bx{c10}{9}{10}\Bx{c11}{10}{11}\Bx{c12}{11}{12}
\end{axis}
%%%%%%%%%%%%% panel b
\begin{axis}[panel,at={(104pt,97pt)},anchor=south west,width=710.5pt,height=473.5pt]
\Rb{(15,17.57)(15.69,17.54)(15.74,17.25)(15.93,17.54)(15.99,17.5)(15.99,17.15)(15.86,17.01)(15.86,15.85)(15.93,14.98)(16.02,14.58)(16.07,14.23)(16.05,13.65)(16.13,14.0)(16.16,14.0)(16.21,13.25)(16.33,13.07)(16.31,11.91)(16.35,11.45)(16.38,10.98)(16.54,10.52)(16.54,9.36)(16.45,8.95)(16.35,9.0)(16.33,9.59)(16.23,10.4)(16.16,11.04)(16.07,11.1)(16.05,12.55)(15.88,12.55)(15.88,14.4)(15.76,14.75)(15.76,16.1)(15.68,16.1)(15.58,16.9)(15.5,16.85)(15.5,16.55)(15.15,16.55)(15.15,16.9)(15,16.9)}
\Rb{(15,15.8)(15.2,15.8)(15.36,15.16)(15.46,15.74)(15.65,15.68)(15.65,14.4)(15.36,14.17)(15.42,13.82)(15.42,12.37)(15.34,11.45)(15.27,11.45)(15.18,12.37)(15.1,13.07)(15,13.07)}
\Rb{(16.1,17.38)(16.15,17.45)(16.3,17.74)(16.45,17.6)(16.52,17.5)(16.55,17.75)(16.62,17.5)(16.75,17.7)(16.78,17.45)(16.88,17.7)(16.92,17.45)(17.1,17.6)(17.13,17.8)(17.18,17.55)(17.3,17.4)(17.41,17.19)(17.48,17.15)(17.48,17.54)(17.77,17.62)(18.16,17.54)(18.85,17.39)(18.85,16.78)(19.0,16.78)(19.04,17.3)(19.37,17.39)(19.72,17.13)(19.85,17.2)(20.02,17.27)(20.05,16.9)(20.21,16.8)(20.36,16.8)(20.38,17.19)(20.41,16.8)(20.87,16.78)(20.87,16.9)(21.06,16.92)(21.08,16.3)(21.18,16.14)(21.6,15.97)(21.78,16.11)(21.92,16.23)(22.25,16.23)(22.37,16.0)(22.41,16.34)(22.46,16.04)(22.74,16.04)(22.74,16.78)(22.91,16.78)(22.91,16.91)(23.59,16.91)(23.61,16.73)(23.77,16.73)(23.77,15.72)(23.85,15.72)(23.9,15.56)(24.0,15.56)(24.11,15.71)(24.18,15.71)(24.27,15.49)(24.49,15.12)(24.53,14.86)(24.53,14.01)(24.75,14.08)(24.79,13.56)(24.88,13.63)(24.96,14.04)(25.03,13.78)(25.12,13.86)(25.14,13.6)(25.29,13.56)(25.31,13.19)(25.46,13.19)(25.46,12.48)(25.26,12.48)(25.24,12.09)(25.15,11.98)(25.03,11.5)(24.98,11.13)(24.93,11.42)(24.86,11.13)(24.82,11.5)(24.75,11.87)(24.65,11.64)(24.58,11.13)(24.46,11.27)(24.42,11.87)(24.37,11.8)(24.34,10.42)(24.3,10.53)(24.25,11.2)(24.2,11.57)(24.13,11.5)(24.09,10.68)(24.0,10.68)(23.99,12.12)(23.93,12.12)(23.91,11.8)(23.85,11.53)(23.83,12.6)(23.76,12.6)(23.72,11.27)(23.67,11.27)(23.65,12.6)(23.61,13.38)(23.56,13.38)(23.53,12.75)(23.45,12.5)(23.43,10.53)(23.31,10.53)(23.26,11.72)(23.19,12.24)(23.07,12.38)(23.06,12.79)(23.01,11.64)(23.0,10.61)(22.95,10.61)(22.91,11.79)(22.84,11.57)(22.81,11.13)(22.74,11.09)(22.69,10.53)(22.62,10.53)(22.48,10.76)(22.46,11.09)(22.41,10.61)(22.37,10.53)(22.34,11.35)(22.27,11.57)(22.25,11.05)(22.18,11.05)(22.14,11.98)(22.08,11.98)(22.04,11.27)(22.0,11.98)(21.99,10.5)(21.93,10.5)(21.9,11.87)(21.87,10.9)(21.78,10.9)(21.88,11.04)(21.6,10.8)(21.5,10.85)(21.37,11.1)(21.22,11.2)(21.2,11.55)(21.13,12.03)(21.11,12.72)(21.04,13.07)(20.97,13.07)(20.92,12.9)(20.85,13.18)(20.75,13.53)(20.73,13.2)(20.68,13.88)(20.66,13.25)(20.56,13.25)(20.55,11.65)(20.46,11.7)(20.44,13.2)(20.35,13.0)(20.28,13.9)(20.24,14.05)(20.21,13.53)(20.16,13.0)(20.1,13.0)(20.07,13.59)(20.02,13.24)(19.84,13.24)(19.81,14.0)(19.65,14.58)(19.62,13.59)(19.55,14.4)(19.5,13.71)(19.36,13.48)(19.2,13.65)(19.04,13.65)(19.01,13.13)(18.92,13.13)(18.92,14.87)(19.1,14.87)(18.97,15.1)(18.97,15.95)(18.85,16.0)(18.85,15.3)(18.8,15.3)(18.75,14.75)(18.59,14.75)(18.59,15.33)(18.16,15.33)(18.16,16.5)(17.95,16.5)(17.85,16.7)(17.82,16.3)(17.5,16.0)(17.5,14.75)(16.82,14.75)(16.82,16.2)(16.7,16.5)(16.6,16.7)(16.4,16.9)(16.3,16.9)(16.1,16.8)}
\Ln{18.85}{18.9}{13.13}{15.95}
\Ln{16.03}{16.07}{16.6}{17.65}
\Rr{21.2}{21.4}{16.6}{17.3}
\Ho{20.19}{20.35}{15.9}{16.2}\Ho{20.87}{21.0}{16.14}{16.38}\Ho{23.17}{23.36}{15.23}{15.71}\Ho{23.6}{23.68}{15.3}{15.45}\Ho{22.5}{22.54}{15.4}{15.5}\Ho{22.74}{22.84}{14.85}{14.98}
\Ln{15.24}{15.3}{12.5}{13.4}
\Rb{(16.64,14.2)(16.8,14.2)(16.93,13.6)(17.01,13.3)(17.01,12.68)(16.82,12.68)(16.8,13.6)(16.64,13.6)}
\Rb{(17.35,14.75)(17.47,14.75)(17.47,13.5)(17.5,13.3)(17.5,11.9)(17.43,11.9)(17.41,13.1)(17.35,13.3)}
\Rb{(17.82,13.4)(17.88,13.4)(17.95,12.6)(18.03,12.2)(18.03,11.38)(17.93,11.38)(17.9,12.3)(17.82,12.4)}
\Rb{(19.06,13.0)(19.12,13.0)(19.15,12.3)(19.25,11.9)(19.25,10.9)(19.15,10.95)(19.12,11.4)(19.05,11.0)(19.0,10.45)(18.86,9.7)(18.8,9.7)(18.8,11.4)(18.95,11.85)(19.03,11.85)}
\Rb{(19.5,11.0)(19.6,11.2)(19.68,11.0)(19.68,10.2)(19.6,10.1)(19.5,10.4)}
\Rr{20.6}{20.68}{11.5}{12.75}
\Rr{16.57}{16.65}{6.35}{9.13}\Rc{c10}{16.6}{16.62}{6.7}{9.0}
\Rb{(16.8,8.4)(16.92,8.4)(16.9,7.7)(16.82,7.65)}
\Rb{(17.12,6.1)(17.25,6.1)(17.25,5.8)(17.17,5.6)(17.12,5.55)}
\Ln{16.31}{16.36}{4.55}{4.89}
\Rb{(16.48,3.96)(16.58,3.96)(16.58,2.9)(16.62,2.7)(16.62,2.0)(16.55,2.0)(16.55,1.8)(16.45,1.3)(16.38,1.45)(16.38,2.3)(16.47,2.3)}
\Rc{c3}{16.68}{16.75}{3.3}{3.6}\Rc{c6}{16.7}{16.73}{3.38}{3.52}
\Rc{c1}{16.68}{16.76}{0.95}{1.3}\Rc{c6}{16.7}{16.74}{1.02}{1.2}
\Ln{17.03}{17.08}{0.8}{1.1}
\Pf{c2}{(17.13,1.0)(17.24,0.95)(17.24,1.2)(17.2,1.75)(17.15,1.6)}
\Rc{c2}{17.49}{17.54}{1.9}{2.3}\Rc{c2}{17.49}{17.54}{1.55}{1.75}\Rc{c2}{17.49}{17.54}{1.2}{1.45}\Rc{c2}{17.5}{17.53}{0.95}{1.15}
\Pf{c2}{(17.66,0.95)(17.8,0.95)(17.76,1.2)(17.7,1.3)}\Rc{c5}{17.7}{17.74}{1.0}{1.12}
\Rc{c2}{17.78}{17.82}{2.2}{2.8}
\Ln{17.82}{17.88}{1.85}{2.98}
\Rc{c2}{18.03}{18.07}{4.5}{5.0}\Ln{18.07}{18.12}{4.25}{5.47}\Rc{c2}{18.05}{18.09}{3.25}{4.05}
\Pf{c2}{(17.96,1.7)(18.02,2.1)(18.1,1.8)(18.12,1.2)(18.05,1.2)}\Rc{c6}{18.0}{18.06}{1.65}{1.85}
\Pf{c2}{(18.2,1.6)(18.23,2.3)(18.32,2.3)(18.38,1.7)(18.45,2.3)(18.5,1.7)(18.6,1.8)(18.9,1.7)(18.9,0.8)(18.3,0.8)}
\Pf{c4}{(18.22,1.6)(18.26,2.1)(18.3,1.7)(18.37,1.6)(18.45,2.0)(18.55,1.7)(18.87,1.7)(18.87,0.95)(18.3,0.95)}
\Rc{c6}{18.24}{18.29}{1.75}{2.0}
\Rb{(18.17,1.7)(18.87,1.7)(18.87,1.0)(18.6,1.0)(18.6,1.28)(18.3,1.28)(18.3,0.55)(18.2,0.55)(18.2,1.28)(18.17,1.28)}
\Ln{18.09}{18.15}{0.9}{2.9}\Rc{c2}{18.05}{18.08}{2.5}{3.0}
\Ln{19.49}{19.54}{1.53}{1.8}
\Rb{(19.62,1.05)(19.7,1.05)(19.72,1.8)(19.8,2.35)(19.9,2.35)(19.85,2.15)(19.78,1.6)(19.72,1.0)}
\Ln{19.91}{19.97}{2.05}{2.45}\Rc{c2}{19.78}{19.83}{1.1}{1.35}
\Rr{19.73}{19.9}{0.5}{1.2}\Rr{19.94}{20.04}{0.55}{0.95}
\Ln{21.68}{21.73}{0.9}{1.25}
% centre-right patches
\Rr{25.12}{25.3}{15.28}{16.0}
\Rb{(25.62,15.82)(25.8,15.82)(25.8,14.34)(25.74,14.34)(25.72,14.1)(25.68,14.34)(25.62,14.34)}
\Rr{25.86}{26.0}{14.79}{15.65}
\Rb{(26.29,15.75)(26.98,15.75)(26.98,15.38)(27.27,15.45)(27.33,15.12)(27.38,15.56)(27.4,15.1)(27.55,14.9)(27.58,14.4)(27.64,14.4)(27.64,15.45)(27.82,15.45)(27.87,15.04)(28.0,15.04)(28.05,15.7)(28.14,15.75)(28.17,15.93)(28.2,15.75)(28.32,15.7)(28.33,15.12)(28.5,15.12)(28.5,14.41)(28.33,14.41)(28.33,13.23)(27.81,13.2)(27.81,12.94)(27.69,12.9)(27.64,12.3)(27.6,12.2)(27.55,12.5)(27.48,11.72)(27.31,11.72)(27.29,12.0)(27.24,11.45)(27.18,11.45)(27.17,13.49)(27.12,13.38)(27.1,11.64)(26.96,11.6)(26.96,11.27)(26.8,11.3)(26.8,11.98)(26.98,12.16)(27.02,14.08)(26.91,14.45)(26.84,14.75)(26.65,14.78)(26.62,14.23)(26.58,13.97)(26.54,13.97)(26.49,14.27)(26.47,14.78)(26.29,14.78)}
\Ho{27.94}{27.99}{14.1}{14.3}\Ho{28.15}{28.19}{14.1}{14.85}
\Ln{26.72}{26.76}{12.35}{13.12}
% 25--26N lower masses
\Rb{(25.29,11.0)(25.36,11.1)(25.43,11.05)(25.45,9.9)(25.5,9.9)(25.53,9.8)(25.6,10.1)(25.62,10.4)(25.72,10.4)(25.76,10.2)(25.76,7.65)(25.68,7.4)(25.62,7.7)(25.6,8.4)(25.52,8.7)(25.47,9.0)(25.42,8.7)(25.38,8.6)(25.3,8.5)(25.2,8.6)(25.18,9.27)(25.29,9.4)}
\Rr{25.61}{26.3}{10.42}{11.1}
\Ln{25.75}{25.79}{11.1}{11.45}\Ln{25.98}{26.02}{11.1}{11.45}\Ln{25.47}{25.52}{9.85}{11.55}
\Rb{(25.96,10.4)(26.08,10.4)(26.1,10.0)(26.2,9.8)(26.27,9.75)(26.27,9.35)(26.2,9.2)(26.2,8.75)(26.1,8.65)(26.0,8.75)(25.96,9.5)}
\Ln{25.81}{25.87}{8.67}{9.44}
\Ln{24.92}{24.98}{8.97}{9.55}
\Ln{25.31}{25.36}{7.95}{8.2}
% wave
\Rb{(26.25,7.57)(26.48,7.49)(26.5,8.04)(26.63,8.04)(26.79,7.87)(26.81,7.23)(26.91,7.1)(27.07,6.98)(27.17,6.85)(27.32,7.15)(27.66,7.23)(27.83,6.89)(27.91,6.6)(28.07,6.64)(28.17,6.09)(28.4,5.79)(28.46,5.28)(28.35,5.03)(28.27,5.45)(28.09,5.28)(28.04,5.53)(27.99,6.04)(27.89,5.66)(27.81,5.96)(27.76,6.47)(27.63,6.68)(27.48,6.94)(27.4,6.72)(27.43,6.13)(27.3,6.21)(27.25,6.55)(27.2,6.5)(27.07,6.68)(26.97,6.38)(26.89,6.17)(26.86,6.64)(26.76,6.98)(26.68,7.49)(26.56,7.74)(26.53,7.15)(26.35,7.06)(26.24,7.23)}
\Ln{26.59}{26.62}{6.85}{7.1}\Ln{26.93}{26.96}{5.5}{5.85}
% 29.4N
\Pf{c2}{(29.28,3.35)(29.4,3.3)(29.55,3.35)(29.62,3.1)(29.6,2.85)(29.45,2.8)(29.4,2.75)(29.35,2.8)(29.35,3.05)(29.28,3.15)}
\Pf{c6}{(29.33,3.25)(29.42,3.2)(29.55,3.25)(29.58,3.05)(29.58,2.9)(29.45,2.88)(29.38,3.05)}
\Pf{c11}{(29.47,3.15)(29.57,3.15)(29.58,2.95)(29.5,2.88)(29.45,3.0)}
\Rc{c6}{29.37}{29.42}{2.8}{3.05}
\Rc{c1}{28.87}{28.91}{0.66}{0.86}\Rc{c1}{29.71}{29.79}{0.6}{0.88}\Rc{c1}{29.89}{29.93}{0.72}{0.92}
% lowest cells 25--27N
\Rb{(25.1,0.55)(25.2,0.55)(25.2,1.1)(25.23,1.4)(25.21,1.45)(25.1,1.1)}
\Ln{25.31}{25.37}{1.0}{1.43}\Ln{25.67}{25.74}{0.6}{1.35}
\Pf{c2}{(25.82,0.85)(26.3,0.82)(26.32,1.3)(26.2,1.75)(26.1,1.5)(26.0,1.55)(25.82,1.25)}
\Pf{c3}{(25.9,0.95)(26.25,0.9)(26.25,1.3)(26.1,1.4)(25.98,1.35)}
\Pf{c6}{(25.95,1.0)(26.2,1.0)(26.2,1.25)(25.98,1.3)}
\Rr{26.03}{26.17}{0.82}{1.38}
\Ln{26.36}{26.42}{0.78}{1.3}
\Pf{c2}{(26.43,0.85)(26.6,1.0)(26.6,1.5)(26.48,1.6)}
\Rr{26.5}{26.6}{1.1}{2.0}
\Ln{26.63}{26.68}{0.48}{1.17}\Rr{26.75}{26.94}{0.53}{1.12}
% pressure levels and legend
\addplot[black,line width=1pt,dash pattern=on 4.5pt off 4.5pt,opacity=0.85] coordinates {(15,13.2)(30,13.2)};
\addplot[red,line width=1pt,dash pattern=on 4.5pt off 4.5pt,opacity=0.8] coordinates {(15,8.22)(25.0,8.22)(25.1,8.3)(30,8.3)};
\addplot[black,line width=1.5pt,dash pattern=on 5.5pt off 3pt] coordinates {(27.31,19.67)(27.82,19.67)};
\addplot[red,line width=1.5pt,dash pattern=on 5.5pt off 3pt] coordinates {(27.31,18.05)(27.82,18.05)};
\node[anchor=west,inner sep=0pt,font=\fontsize{25}{25}\selectfont] at (axis cs:27.98,19.63) {200 hPa};
\node[anchor=west,inner sep=0pt,font=\fontsize{25}{25}\selectfont] at (axis cs:27.98,18.01) {400 hPa};
\node[anchor=center,inner sep=0pt,font=\fontsize{30}{30}\selectfont] at (axis cs:15.64,19.62) {(b)};
\end{axis}
%%%%%%%%%%%%% colour bar b
\begin{axis}[cbar,at={(865pt,61.5pt)},anchor=south west,width=17pt,height=527pt,ymax=11,
 ytick={0,...,11},yticklabels={0,0.05,0.1,0.2,0.3,0.4,0.5,0.6,0.7,0.8,0.9,1.0},
 yticklabel style={xshift=20pt}]
\Bx{c1!60!blue}{0}{1}\Bx{c2}{1}{2}\Bx{c3}{2}{3}\Bx{c4}{3}{4}\Bx{c5}{4}{5}\Bx{c6}{5}{6}\Bx{c7}{6}{7}\Bx{c8}{7}{8}\Bx{c9}{8}{9}\Bx{c10}{9}{10}\Bx{c11}{10}{11}
\end{axis}
\end{tikzpicture}
\end{document}
